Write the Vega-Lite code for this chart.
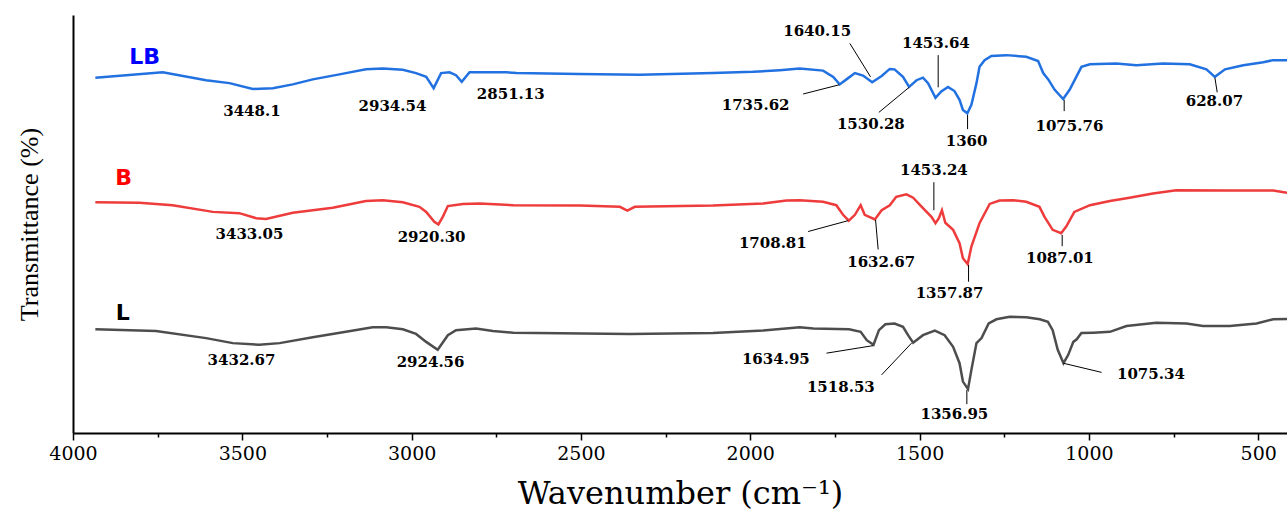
{
  "$schema": "https://vega.github.io/schema/vega-lite/v6.json",
  "width": 1214,
  "height": 418,
  "autosize": {"type": "none"},
  "padding": {"left": 73, "top": 15, "right": 0, "bottom": 78},
  "background": "white",
  "config": {"view": {"stroke": null}},
  "datasets": {
    "spectra": [
      {"s":"LB","wn":3934,"t":85.0},{"s":"LB","wn":3735,"t":86.3},{"s":"LB","wn":3607,"t":84.4},{"s":"LB","wn":3538,"t":83.7},{"s":"LB","wn":3469,"t":82.3},{"s":"LB","wn":3410,"t":82.5},{"s":"LB","wn":3351,"t":83.4},{"s":"LB","wn":3292,"t":84.6},{"s":"LB","wn":3213,"t":85.8},{"s":"LB","wn":3135,"t":87.0},{"s":"LB","wn":3085,"t":87.2},{"s":"LB","wn":3026,"t":86.9},{"s":"LB","wn":2987,"t":86.1},{"s":"LB","wn":2957,"t":85.2},{"s":"LB","wn":2935,"t":82.5},{"s":"LB","wn":2913,"t":86.1},{"s":"LB","wn":2888,"t":86.3},{"s":"LB","wn":2869,"t":85.6},{"s":"LB","wn":2852,"t":84.0},{"s":"LB","wn":2829,"t":86.3},{"s":"LB","wn":2799,"t":86.3},{"s":"LB","wn":2720,"t":86.3},{"s":"LB","wn":2690,"t":86.1},{"s":"LB","wn":2506,"t":85.9},{"s":"LB","wn":2326,"t":85.7},{"s":"LB","wn":2110,"t":86.1},{"s":"LB","wn":1992,"t":86.4},{"s":"LB","wn":1913,"t":86.8},{"s":"LB","wn":1854,"t":87.2},{"s":"LB","wn":1785,"t":86.7},{"s":"LB","wn":1755,"t":85.2},{"s":"LB","wn":1736,"t":83.4},{"s":"LB","wn":1716,"t":84.6},{"s":"LB","wn":1691,"t":86.1},{"s":"LB","wn":1667,"t":85.5},{"s":"LB","wn":1640,"t":83.9},{"s":"LB","wn":1612,"t":85.4},{"s":"LB","wn":1588,"t":87.1},{"s":"LB","wn":1574,"t":87.0},{"s":"LB","wn":1549,"t":85.2},{"s":"LB","wn":1531,"t":82.8},{"s":"LB","wn":1509,"t":84.4},{"s":"LB","wn":1490,"t":85.0},{"s":"LB","wn":1475,"t":83.7},{"s":"LB","wn":1453,"t":80.2},{"s":"LB","wn":1436,"t":81.7},{"s":"LB","wn":1416,"t":82.8},{"s":"LB","wn":1397,"t":81.8},{"s":"LB","wn":1382,"t":79.7},{"s":"LB","wn":1372,"t":77.3},{"s":"LB","wn":1359,"t":76.5},{"s":"LB","wn":1347,"t":78.5},{"s":"LB","wn":1332,"t":83.7},{"s":"LB","wn":1323,"t":87.6},{"s":"LB","wn":1308,"t":89.2},{"s":"LB","wn":1288,"t":90.2},{"s":"LB","wn":1244,"t":90.4},{"s":"LB","wn":1185,"t":90.0},{"s":"LB","wn":1150,"t":89.0},{"s":"LB","wn":1135,"t":86.1},{"s":"LB","wn":1120,"t":84.6},{"s":"LB","wn":1101,"t":82.1},{"s":"LB","wn":1076,"t":79.9},{"s":"LB","wn":1057,"t":82.1},{"s":"LB","wn":1022,"t":87.6},{"s":"LB","wn":997,"t":88.2},{"s":"LB","wn":919,"t":88.4},{"s":"LB","wn":860,"t":88.0},{"s":"LB","wn":781,"t":88.4},{"s":"LB","wn":702,"t":88.2},{"s":"LB","wn":653,"t":87.0},{"s":"LB","wn":628,"t":85.2},{"s":"LB","wn":598,"t":87.0},{"s":"LB","wn":544,"t":88.0},{"s":"LB","wn":485,"t":88.7},{"s":"LB","wn":456,"t":89.2},{"s":"LB","wn":415,"t":89.2},
      {"s":"B","wn":3934,"t":55.2},{"s":"B","wn":3804,"t":55.1},{"s":"B","wn":3706,"t":54.5},{"s":"B","wn":3587,"t":52.9},{"s":"B","wn":3509,"t":52.6},{"s":"B","wn":3459,"t":51.4},{"s":"B","wn":3430,"t":51.2},{"s":"B","wn":3351,"t":52.7},{"s":"B","wn":3233,"t":53.9},{"s":"B","wn":3135,"t":55.5},{"s":"B","wn":3085,"t":55.7},{"s":"B","wn":3026,"t":55.2},{"s":"B","wn":2977,"t":54.1},{"s":"B","wn":2957,"t":52.9},{"s":"B","wn":2933,"t":50.5},{"s":"B","wn":2921,"t":49.9},{"s":"B","wn":2908,"t":51.7},{"s":"B","wn":2893,"t":54.3},{"s":"B","wn":2849,"t":54.8},{"s":"B","wn":2799,"t":54.9},{"s":"B","wn":2700,"t":54.5},{"s":"B","wn":2503,"t":54.4},{"s":"B","wn":2385,"t":54.1},{"s":"B","wn":2363,"t":53.2},{"s":"B","wn":2341,"t":54.1},{"s":"B","wn":2110,"t":54.4},{"s":"B","wn":1962,"t":54.9},{"s":"B","wn":1893,"t":55.6},{"s":"B","wn":1854,"t":55.7},{"s":"B","wn":1785,"t":55.3},{"s":"B","wn":1746,"t":54.5},{"s":"B","wn":1726,"t":52.2},{"s":"B","wn":1709,"t":50.8},{"s":"B","wn":1691,"t":52.2},{"s":"B","wn":1674,"t":54.5},{"s":"B","wn":1662,"t":52.2},{"s":"B","wn":1632,"t":51.1},{"s":"B","wn":1612,"t":53.3},{"s":"B","wn":1588,"t":54.5},{"s":"B","wn":1569,"t":56.5},{"s":"B","wn":1539,"t":57.1},{"s":"B","wn":1519,"t":56.3},{"s":"B","wn":1490,"t":53.8},{"s":"B","wn":1465,"t":51.7},{"s":"B","wn":1453,"t":50.2},{"s":"B","wn":1443,"t":51.4},{"s":"B","wn":1434,"t":53.3},{"s":"B","wn":1424,"t":50.3},{"s":"B","wn":1401,"t":48.6},{"s":"B","wn":1382,"t":45.4},{"s":"B","wn":1372,"t":41.8},{"s":"B","wn":1358,"t":40.4},{"s":"B","wn":1347,"t":44.6},{"s":"B","wn":1323,"t":50.2},{"s":"B","wn":1293,"t":54.8},{"s":"B","wn":1264,"t":55.6},{"s":"B","wn":1224,"t":55.7},{"s":"B","wn":1185,"t":55.3},{"s":"B","wn":1146,"t":54.1},{"s":"B","wn":1131,"t":51.7},{"s":"B","wn":1107,"t":48.6},{"s":"B","wn":1082,"t":47.8},{"s":"B","wn":1067,"t":49.4},{"s":"B","wn":1043,"t":52.9},{"s":"B","wn":997,"t":54.5},{"s":"B","wn":938,"t":55.5},{"s":"B","wn":880,"t":56.3},{"s":"B","wn":811,"t":57.3},{"s":"B","wn":742,"t":58.1},{"s":"B","wn":584,"t":58.0},{"s":"B","wn":456,"t":58.0},{"s":"B","wn":415,"t":57.5},
      {"s":"L","wn":3934,"t":24.8},{"s":"L","wn":3755,"t":24.4},{"s":"L","wn":3607,"t":22.7},{"s":"L","wn":3528,"t":21.5},{"s":"L","wn":3450,"t":21.1},{"s":"L","wn":3390,"t":21.5},{"s":"L","wn":3292,"t":22.9},{"s":"L","wn":3194,"t":24.2},{"s":"L","wn":3115,"t":25.3},{"s":"L","wn":3075,"t":25.3},{"s":"L","wn":3026,"t":24.8},{"s":"L","wn":2987,"t":23.7},{"s":"L","wn":2957,"t":21.8},{"s":"L","wn":2923,"t":19.9},{"s":"L","wn":2893,"t":23.4},{"s":"L","wn":2869,"t":24.6},{"s":"L","wn":2810,"t":25.0},{"s":"L","wn":2760,"t":24.4},{"s":"L","wn":2700,"t":24.0},{"s":"L","wn":2356,"t":23.7},{"s":"L","wn":2110,"t":23.9},{"s":"L","wn":1962,"t":24.5},{"s":"L","wn":1854,"t":25.3},{"s":"L","wn":1814,"t":25.0},{"s":"L","wn":1708,"t":24.8},{"s":"L","wn":1674,"t":24.2},{"s":"L","wn":1656,"t":22.2},{"s":"L","wn":1636,"t":21.1},{"s":"L","wn":1620,"t":24.6},{"s":"L","wn":1601,"t":26.0},{"s":"L","wn":1574,"t":26.2},{"s":"L","wn":1549,"t":25.4},{"s":"L","wn":1534,"t":23.4},{"s":"L","wn":1519,"t":21.6},{"s":"L","wn":1490,"t":23.4},{"s":"L","wn":1455,"t":24.5},{"s":"L","wn":1426,"t":23.4},{"s":"L","wn":1401,"t":20.6},{"s":"L","wn":1382,"t":16.7},{"s":"L","wn":1372,"t":12.3},{"s":"L","wn":1357,"t":10.5},{"s":"L","wn":1347,"t":15.1},{"s":"L","wn":1332,"t":21.5},{"s":"L","wn":1317,"t":22.7},{"s":"L","wn":1296,"t":26.2},{"s":"L","wn":1273,"t":27.2},{"s":"L","wn":1234,"t":27.8},{"s":"L","wn":1185,"t":27.7},{"s":"L","wn":1145,"t":27.2},{"s":"L","wn":1121,"t":26.6},{"s":"L","wn":1107,"t":24.6},{"s":"L","wn":1092,"t":19.9},{"s":"L","wn":1075,"t":16.7},{"s":"L","wn":1061,"t":18.7},{"s":"L","wn":1046,"t":21.8},{"s":"L","wn":1036,"t":22.4},{"s":"L","wn":1022,"t":23.9},{"s":"L","wn":987,"t":24.0},{"s":"L","wn":938,"t":24.2},{"s":"L","wn":889,"t":25.6},{"s":"L","wn":801,"t":26.4},{"s":"L","wn":712,"t":26.2},{"s":"L","wn":663,"t":25.6},{"s":"L","wn":584,"t":25.6},{"s":"L","wn":505,"t":26.2},{"s":"L","wn":456,"t":27.2},{"s":"L","wn":415,"t":27.3}
    ],
    "peaks": [
      {"s":"LB","label":"3448.1","wn":3471.6,"t":77.0},
      {"s":"LB","label":"2934.54","wn":3056.6,"t":78.3},
      {"s":"LB","label":"2851.13","wn":2707.2,"t":81.2},
      {"s":"LB","label":"1640.15","wn":1802.5,"t":96.2},
      {"s":"LB","label":"1453.64","wn":1451.9,"t":93.4},
      {"s":"LB","label":"1735.62","wn":1984.2,"t":78.5},
      {"s":"LB","label":"1530.28","wn":1643.9,"t":73.9},
      {"s":"LB","label":"1360","wn":1361.2,"t":69.9},
      {"s":"LB","label":"1075.76","wn":1057.6,"t":73.5},
      {"s":"LB","label":"628.07","wn":629.3,"t":79.4},
      {"s":"B","label":"3433.05","wn":3479.0,"t":47.6},
      {"s":"B","label":"2920.30","wn":2941.1,"t":46.8},
      {"s":"B","label":"1708.81","wn":1933.4,"t":45.4},
      {"s":"B","label":"1632.67","wn":1613.5,"t":40.8},
      {"s":"B","label":"1453.24","wn":1457.8,"t":62.8},
      {"s":"B","label":"1357.87","wn":1411.5,"t":33.4},
      {"s":"B","label":"1087.01","wn":1085.7,"t":41.9},
      {"s":"L","label":"3432.67","wn":3502.3,"t":17.5},
      {"s":"L","label":"2924.56","wn":2944.1,"t":16.9},
      {"s":"L","label":"1634.95","wn":1924.5,"t":17.7},
      {"s":"L","label":"1518.53","wn":1732.5,"t":10.9},
      {"s":"L","label":"1356.95","wn":1397.3,"t":4.5},
      {"s":"L","label":"1075.34","wn":816.9,"t":14.1}
    ],
    "leaders": [
      {"wn":1843.9,"t":81.1,"wn2":1737.5,"t2":83.3},
      {"wn":1705.9,"t":93.2,"wn2":1644.8,"t2":85.2},
      {"wn":1445.1,"t":90.4,"wn2":1445.1,"t2":82.7},
      {"wn":1620.3,"t":76.7,"wn2":1530.8,"t2":82.7},
      {"wn":1358.3,"t":76.1,"wn2":1358.3,"t2":72.7},
      {"wn":1073.0,"t":79.7,"wn2":1073.0,"t2":77.0},
      {"wn":627.9,"t":85.0,"wn2":621.1,"t2":81.5},
      {"wn":1829.1,"t":48.2,"wn2":1710.9,"t2":50.8},
      {"wn":1630.0,"t":51.0,"wn2":1622.3,"t2":43.9},
      {"wn":1457.8,"t":60.0,"wn2":1457.8,"t2":53.3},
      {"wn":1355.4,"t":40.2,"wn2":1355.4,"t2":36.2},
      {"wn":1078.9,"t":47.4,"wn2":1078.9,"t2":44.7},
      {"wn":1774.8,"t":19.1,"wn2":1637.1,"t2":20.9},
      {"wn":1612.3,"t":13.9,"wn2":1523.7,"t2":21.5},
      {"wn":1360.4,"t":10.3,"wn2":1360.4,"t2":6.9},
      {"wn":1075.9,"t":16.7,"wn2":962.5,"t2":14.5}
    ],
    "names": [
      {"s":"LB","wn":3788.2,"t":90.0},
      {"s":"B","wn":3850.3,"t":60.9},
      {"s":"L","wn":3853.2,"t":28.6}
    ]
  },
  "encoding": {
    "x": {"field": "wn", "type": "quantitative",
      "scale": {"domain": [415, 4000], "reverse": true, "nice": false, "zero": false},
      "axis": {"orient": "bottom", "values": [4000,3750,3500,3250,3000,2750,2500,2250,2000,1750,1500,1250,1000,750,500],
        "labelExpr": "datum.value % 500 === 0 ? datum.label : ''",
        "title": "Wavenumber (cm⁻¹)", "titleFont": "DejaVu Serif", "titleFontSize": 32, "titleFontWeight": "normal", "titleColor": "black", "titlePadding": 15,
        "labelFont": "DejaVu Serif", "labelFontSize": 19, "labelColor": "black", "labelPadding": 4, "labelFlush": false, "labelOverlap": false,
        "grid": false, "domainColor": "black", "domainWidth": 2, "tickColor": "black", "tickWidth": 1.5,
        "tickSize": {"condition": {"test": "datum.value % 500 === 0", "value": 7}, "value": 4},
        "format": "d"}},
    "y": {"field": "t", "type": "quantitative",
      "scale": {"domain": [0, 100], "nice": false, "zero": false},
      "axis": {"title": "Transmittance (%)", "titleFont": "Liberation Serif", "titleFontSize": 26, "titleFontWeight": "normal", "titleColor": "black", "titlePadding": 31,
        "labels": false, "ticks": false, "grid": false, "domainColor": "black", "domainWidth": 2}}
  },
  "layer": [
    {
      "data": {"name": "spectra"},
      "mark": {"type": "line", "strokeWidth": 2.5, "interpolate": "linear"},
      "encoding": {
        "color": {"field": "s", "type": "nominal", "legend": null,
          "scale": {"domain": ["LB", "B", "L"], "range": ["#2271e0", "#ee3b3b", "#4d4d4d"]}},
        "detail": {"field": "s"}
      }
    },
    {
      "data": {"name": "leaders"},
      "mark": {"type": "rule", "color": "black", "strokeWidth": 1},
      "encoding": {
        "x2": {"field": "wn2"},
        "y2": {"field": "t2"}
      }
    },
    {
      "data": {"name": "peaks"},
      "mark": {"type": "text", "font": "DejaVu Serif", "fontWeight": "bold", "fontSize": 15, "color": "black", "align": "center", "baseline": "middle"},
      "encoding": {
        "text": {"field": "label"}
      }
    },
    {
      "data": {"name": "names"},
      "mark": {"type": "text", "font": "DejaVu Sans", "fontWeight": "bold", "fontSize": 22, "align": "center", "baseline": "middle"},
      "encoding": {
        "text": {"field": "s"},
        "color": {"field": "s", "type": "nominal", "legend": null,
          "scale": {"domain": ["LB", "B", "L"], "range": ["#0000ff", "#ff0000", "#000000"]}}
      }
    }
  ],
  "resolve": {"scale": {"color": "independent"}}
}
